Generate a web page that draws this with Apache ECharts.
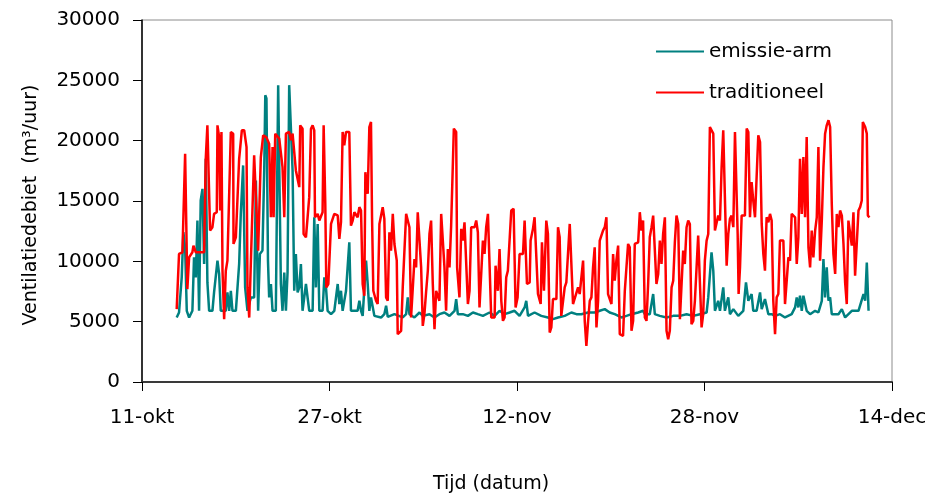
<!DOCTYPE html>
<html>
<head>
<meta charset="utf-8">
<script src="https://cdn.jsdelivr.net/npm/echarts@6/dist/echarts.min.js"></script>
<style>
	html, body { margin: 0; padding: 0; background: #fff; }
	#chart { width: 935px; height: 499px; }
</style>
</head>
<body>
<div id="chart"></div>
<script>
	'use strict';

	// tijd in dagen vanaf 11-okt
	var xTickLabels = ['11-okt', '27-okt', '12-nov', '28-nov', '14-dec'];
	var yTicks = [0, 5000, 10000, 15000, 20000, 25000, 30000];

	var emTime = [
		2.96, 3.16, 3.39, 3.53, 3.68, 3.82, 4.02, 4.30, 4.44, 4.59, 4.73, 4.87, 5.01, 5.16, 5.30, 5.44, 5.58, 5.73,
		6.01, 6.15, 6.30, 6.44, 6.58, 6.72, 7.15, 7.29, 7.44, 7.58, 7.72, 8.01, 8.15, 8.29, 8.43, 8.63, 8.80, 9.00,
		9.29, 9.57, 9.72, 9.91, 10.06, 10.28, 10.43, 10.52, 10.62, 10.75, 10.85, 11.00, 11.14, 11.42, 11.62, 11.71,
		11.85, 11.99, 12.14, 12.28, 12.42, 12.56, 12.71, 12.85, 12.99, 13.13, 13.28, 13.42, 13.56, 13.70, 13.85,
		13.99, 14.13, 14.27, 14.56, 14.70, 14.84, 14.99, 15.13, 15.41, 15.56, 15.70, 15.84, 16.13, 16.41, 16.70,
		16.84, 16.98, 17.12, 17.41, 17.69, 17.83, 18.40, 18.55, 18.69, 18.83, 19.12, 19.26, 19.40, 19.54, 19.83,
		20.40, 20.68, 20.83, 20.97, 21.54, 21.68, 22.25, 22.54, 22.68, 22.82, 23.25, 23.68, 23.96, 24.53, 24.96,
		25.38, 25.81, 26.24, 26.67, 26.81, 26.95, 27.38, 27.81, 28.24, 28.66, 29.09, 29.66, 30.09, 30.51, 30.94,
		31.37, 31.79, 32.22, 32.65, 32.79, 32.94, 33.50, 34.07, 34.64, 35.07, 35.50, 36.07, 36.64, 37.07, 37.49,
		38.06, 38.63, 39.06, 39.49, 39.91, 40.34, 40.91, 41.34, 41.77, 42.34, 42.76, 42.91, 43.33, 43.62, 43.76,
		44.19, 44.76, 45.33, 45.90, 46.47, 47.04, 47.61, 48.18, 48.32, 48.60, 48.75, 48.89, 49.17, 49.32, 49.60,
		49.74, 50.03, 50.17, 50.46, 50.88, 51.31, 51.54, 51.74, 52.02, 52.16, 52.45, 52.74, 52.88, 53.16, 53.45,
		53.73, 54.02, 54.44, 54.87, 55.44, 55.73, 55.87, 56.01, 56.15, 56.30, 56.44, 56.72, 57.01, 57.44, 57.72,
		58.01, 58.15, 58.29, 58.43, 58.58, 58.72, 58.86, 59.43, 59.72, 60.00, 60.57, 61.14, 61.57, 61.71, 61.85, 62.00
	];
	var emValue = [
		5340, 5760, 8670, 12410, 11160, 5900, 5340, 5900, 10330, 8670, 13380, 5900, 15040, 16010, 9780, 18500, 8250, 5900,
		5900, 7420, 7560, 10060, 8950, 5900, 5900, 7420, 5900, 7560, 5900, 5900, 7840, 9780, 13930, 17950, 7840, 5900,
		7010, 7010, 16700, 5900, 10610, 10890, 17530, 23770, 23500, 10060, 7010, 8120, 5900, 5900, 24600, 24600,
		8120, 5900, 9080, 5900, 9080, 24600, 24460, 17530, 7560, 10610, 7420, 7840, 9780, 5900, 5900,
		8120, 8120, 5900, 5900, 13650, 7840, 13100, 5900, 5900, 8670, 7840, 5900, 5620, 5900, 8120,
		6460, 7560, 5900, 7560, 11580, 5900, 5900, 6730, 5900, 5480, 10060, 8120, 5900, 7010, 5480,
		5340, 5620, 6320, 5400, 5620, 5480, 5350, 5620, 7010, 5620, 5350, 5760, 5480, 5620, 5350,
		5620, 5760, 5480, 5900, 6870, 5620, 5620, 5480, 5760, 5620, 5480, 5760, 5480, 5900, 5620,
		5760, 5900, 5480, 6180, 6730, 5480, 5760, 5480, 5350, 5210, 5350, 5480, 5760, 5620, 5620,
		5760, 5760, 5900, 6040, 5760, 5620, 5350, 5480, 5620, 5760, 5900, 5620, 5620, 7290, 5620,
		5480, 5350, 5480, 5480, 5620, 5480, 5620, 5760, 7010, 10750, 9220, 5900, 6730, 5900, 7840,
		5900, 7010, 5620, 6040, 5480, 5900, 8250, 6730, 7290, 5900, 5900, 7420, 6040, 6870, 5620,
		5620, 5480, 5620, 5350, 5620, 6180, 7010, 6180, 7150, 5900, 7150, 5900, 5620, 5900, 5760,
		6730, 10190, 7010, 9500, 6730, 7010, 5620, 5620, 6040, 5350, 5900, 5900, 7290, 6730, 9900, 5900
	];

	var trTime = [
		2.96, 3.02, 3.16, 3.45, 3.68, 3.87, 4.02, 4.30, 4.39, 4.59, 5.30, 5.44, 5.58, 5.75, 5.81, 6.01, 6.15, 6.38,
		6.44, 6.58, 6.67, 6.78, 6.87, 7.01, 7.15, 7.29, 7.58, 7.78, 7.81, 8.01, 8.29, 8.52, 8.72, 8.92, 9.00, 9.15,
		9.29, 9.37, 9.57, 9.72, 9.91, 10.14, 10.34, 10.60, 10.71, 10.85, 11.00, 11.14, 11.23, 11.37, 11.71, 11.85,
		11.99, 12.14, 12.28, 12.56, 12.71, 12.85, 12.99, 13.13, 13.28, 13.42, 13.50, 13.70, 13.79, 13.99, 14.13,
		14.27, 14.42, 14.56, 14.70, 14.76, 14.99, 15.13, 15.41, 15.50, 15.64, 15.73, 15.90, 16.13, 16.41, 16.70,
		16.84, 16.98, 17.12, 17.26, 17.41, 17.69, 17.83, 17.98, 18.12, 18.40, 18.55, 18.69, 18.83, 18.97, 19.06,
		19.26, 19.40, 19.54, 19.63, 19.74, 19.97, 20.11, 20.26, 20.40, 20.54, 20.68, 20.83, 20.97, 21.11, 21.25,
		21.40, 21.54, 21.74, 21.82, 22.11, 22.25, 22.54, 22.68, 22.82, 22.96, 23.11, 23.25, 23.39, 23.53, 23.68,
		23.82, 23.96, 24.10, 24.25, 24.39, 24.53, 24.67, 24.81, 24.96, 25.10, 25.38, 25.53, 25.67, 25.81, 25.95,
		26.10, 26.24, 26.38, 26.52, 26.61, 26.81, 26.89, 27.09, 27.24, 27.38, 27.52, 27.66, 27.81, 27.95, 28.09,
		28.38, 28.52, 28.66, 28.80, 29.09, 29.23, 29.37, 29.52, 29.66, 29.80, 30.09, 30.17, 30.37, 30.51, 30.66,
		30.80, 30.94, 31.08, 31.22, 31.51, 31.71, 31.88, 32.05, 32.22, 32.51, 32.65, 32.79, 32.85, 33.08, 33.16,
		33.36, 33.50, 33.65, 33.79, 34.02, 34.13, 34.30, 34.50, 34.64, 34.79, 34.93, 35.07, 35.36, 35.50, 35.64,
		35.78, 35.93, 36.07, 36.21, 36.50, 36.64, 36.78, 36.92, 37.21, 37.35, 37.64, 37.78, 37.92, 38.06, 38.21,
		38.35, 38.49, 38.63, 38.78, 38.92, 39.06, 39.34, 39.49, 39.63, 39.77, 40.06, 40.20, 40.34, 40.48, 40.63,
		40.77, 41.05, 41.20, 41.34, 41.48, 41.62, 41.77, 41.91, 42.05, 42.34, 42.48, 42.62, 42.76, 42.91, 43.05,
		43.19, 43.33, 43.48, 43.62, 43.76, 43.90, 44.05, 44.19, 44.33, 44.47, 44.62, 44.76, 44.90, 45.04, 45.19,
		45.33, 45.47, 45.61, 45.76, 45.90, 46.04, 46.18, 46.32, 46.47, 46.61, 46.75, 46.89, 47.04, 47.18, 47.32,
		47.46, 47.61, 47.75, 47.89, 48.03, 48.18, 48.32, 48.46, 48.60, 48.75, 48.89, 49.03, 49.17, 49.32, 49.46,
		49.60, 49.74, 49.89, 50.03, 50.17, 50.31, 50.46, 50.60, 50.74, 50.83, 50.91, 51.03, 51.17, 51.45, 51.60,
		51.74, 51.88, 52.02, 52.16, 52.31, 52.45, 52.59, 52.74, 52.88, 53.02, 53.16, 53.30, 53.45, 53.59, 53.73,
		53.87, 54.02, 54.16, 54.30, 54.44, 54.73, 54.87, 55.01, 55.16, 55.30, 55.44, 55.73, 55.87, 56.01, 56.15,
		56.30, 56.44, 56.58, 56.72, 56.87, 57.01, 57.15, 57.29, 57.44, 57.58, 57.72, 57.86, 58.01, 58.15, 58.29,
		58.43, 58.58, 58.72, 58.86, 59.00, 59.15, 59.29, 59.43, 59.57, 59.72, 59.86, 60.00, 60.14, 60.28, 60.43,
		60.57, 60.71, 60.85, 61.00, 61.14, 61.28, 61.42, 61.51, 61.71, 61.85, 61.94, 62.08
	];
	var trValue = [
		6040, 7420, 10610, 10750, 18920, 7700, 10330, 10750, 11300, 10750, 10750, 18500, 21270, 21270, 12550, 12830, 13930, 14070,
		21270, 20300, 14210, 20720, 9220, 5210, 9220, 10060, 20720, 20580, 11440, 11990, 18500, 20860, 20860, 19470, 7840, 5340,
		5340, 12550, 18780, 18780, 10890, 18640, 20440, 20300, 20170, 19750, 13650, 19470, 13650, 20580, 20170, 20300,
		17810, 13650, 20580, 20720, 20030, 20580, 20440, 17530, 17530, 16150, 21270, 20990, 12270, 11990, 13650,
		15320, 20990, 21270, 20860, 13650, 13930, 13380, 14070, 21270, 14770, 7840, 8120, 13100, 13930, 13800,
		11860, 13240, 20720, 19610, 20720, 20720, 12960, 13380, 14070, 13650, 14490, 14210, 8120, 7150, 17390,
		15600, 21130, 21550, 13650, 7560, 6730, 6460, 13100, 13100, 14490, 13520, 7010, 6730, 12410, 10890,
		13930, 11440, 10060, 3960, 4240, 7840, 13930, 14070, 12830, 5350, 7840, 10190, 9500, 14070, 13930,
		9500, 4650, 5620, 7560, 9220, 12270, 13380, 8250, 4380, 7560, 6730, 13930, 13790, 9500, 5900,
		11020, 9500, 12960, 13100, 21000, 20720, 9500, 7010, 12690, 11720, 13240, 13100, 6460, 7560, 12830,
		12830, 13380, 12410, 6180, 11720, 10610, 12830, 13930, 13930, 5350, 5350, 9640, 7560, 11020, 6730,
		5070, 5350, 8670, 9220, 14210, 14350, 6180, 7000, 10610, 10610, 13380, 13520, 8120, 8250, 11720,
		12690, 13650, 13520, 7290, 6460, 11580, 7560, 13380, 12270, 4100, 4520, 6870, 6870, 12830, 11990,
		5480, 5350, 7840, 8250, 13100, 12960, 6460, 6460, 7840, 7290, 10060, 5070, 2990, 4930, 6730,
		7010, 9500, 11160, 4520, 6730, 11720, 12550, 12830, 13650, 7290, 6460, 10610, 8390, 10060, 11300,
		3960, 3820, 7560, 7420, 11440, 11160, 4240, 5070, 11440, 11580, 14070, 12550, 13380, 5350, 5070,
		8120, 11990, 12830, 13790, 13650, 8120, 8950, 11720, 9780, 12270, 13650, 4240, 3550, 4240, 7840,
		8390, 11580, 13790, 13100, 5210, 5350, 10890, 9780, 12830, 13380, 13100, 4790, 5070, 6730, 6730,
		12130, 11990, 4520, 5620, 10060, 11720, 12270, 21130, 21000, 20580, 12550, 12550, 13790, 13380, 17810,
		20860, 15320, 9640, 12270, 13520, 13790, 12830, 20720, 20720, 12270, 7290, 9500, 13790, 13790, 21000,
		20720, 13650, 16560, 15040, 13650, 13650, 20440, 19890, 13100, 10610, 9220, 13650, 13240, 13930, 13380,
		6730, 3960, 7010, 7290, 11720, 11720, 6460, 6320, 10330, 10060, 13930, 13650, 9780, 11990, 18500,
		13930, 18640, 13650, 20300, 11160, 9500, 12550, 10330, 12550, 13650, 19470, 10060, 13380, 17810, 20580,
		21270, 21690, 21130, 14770, 10610, 8950, 13930, 12830, 14210, 13790, 11440, 8250, 6460, 13380, 13520,
		11300, 14070, 8810, 8950, 14210, 14490, 15040, 21550, 21130, 20580, 13790, 13650
	];

	function pairs(times, values) {
		return times.map(function(t, i) { return [t, values[i]]; });
	}

	var font = 'DejaVu Sans';

	var option = {
		animation: false,
		backgroundColor: '#fff',
		grid: {
			left: 142,
			right: 43,
			top: 20,
			bottom: 117,
			show: true,
			borderColor: '#8c8c8c',
			borderWidth: 1
		},
		legend: {
			orient: 'vertical',
			left: 651,
			top: 36,
			itemWidth: 48,
			itemHeight: 2,
			itemGap: 20,
			icon: 'rect',
			textStyle: {
				fontFamily: font,
				fontSize: 20,
				lineHeight: 21,
				color: '#000'
			},
			data: ['emissie-arm', 'traditioneel']
		},
		xAxis: {
			type: 'value',
			min: 0,
			max: 64,
			interval: 16,
			axisLine: {
				lineStyle: { color: '#3a3a3a', width: 2 }
			},
			axisTick: {
				length: 9,
				lineStyle: { color: '#000' }
			},
			axisLabel: {
				margin: 26,
				fontFamily: font,
				fontSize: 20,
				color: '#000',
				formatter: function(v) { return xTickLabels[Math.round(v / 16)]; }
			},
			splitLine: { show: false }
		},
		yAxis: {
			type: 'value',
			min: yTicks[0],
			max: yTicks[yTicks.length - 1],
			interval: yTicks[1] - yTicks[0],
			axisLine: {
				show: true,
				lineStyle: { color: '#000', width: 1.5 }
			},
			axisTick: {
				show: true,
				length: 9,
				lineStyle: { color: '#000' }
			},
			axisLabel: {
				margin: 22,
				fontFamily: font,
				fontSize: 20,
				color: '#000',
				formatter: function(v) { return String(v); }
			},
			splitLine: { show: false }
		},
		graphic: [
			{
				type: 'text',
				x: 491,
				y: 484,
				style: {
					text: 'Tijd (datum)',
					font: '19px "DejaVu Sans"',
					fill: '#000',
					align: 'center',
					verticalAlign: 'middle'
				}
			},
			{
				type: 'text',
				x: 31,
				y: 205,
				rotation: Math.PI / 2,
				style: {
					text: 'Ventilatiedebiet  (m³/uur)',
					font: '19px "DejaVu Sans"',
					fill: '#000',
					align: 'center',
					verticalAlign: 'middle'
				}
			}
		],
		series: [
			{
				name: 'emissie-arm',
				type: 'line',
				data: pairs(emTime, emValue),
				showSymbol: false,
				lineStyle: { color: '#008080', width: 2.5 },
				itemStyle: { color: '#008080' }
			},
			{
				name: 'traditioneel',
				type: 'line',
				data: pairs(trTime, trValue),
				showSymbol: false,
				lineStyle: { color: '#ff0000', width: 2.5 },
				itemStyle: { color: '#ff0000' }
			}
		]
	};

	var chart = echarts.init(document.getElementById('chart'));
	chart.setOption(option);
</script>
</body>
</html>
